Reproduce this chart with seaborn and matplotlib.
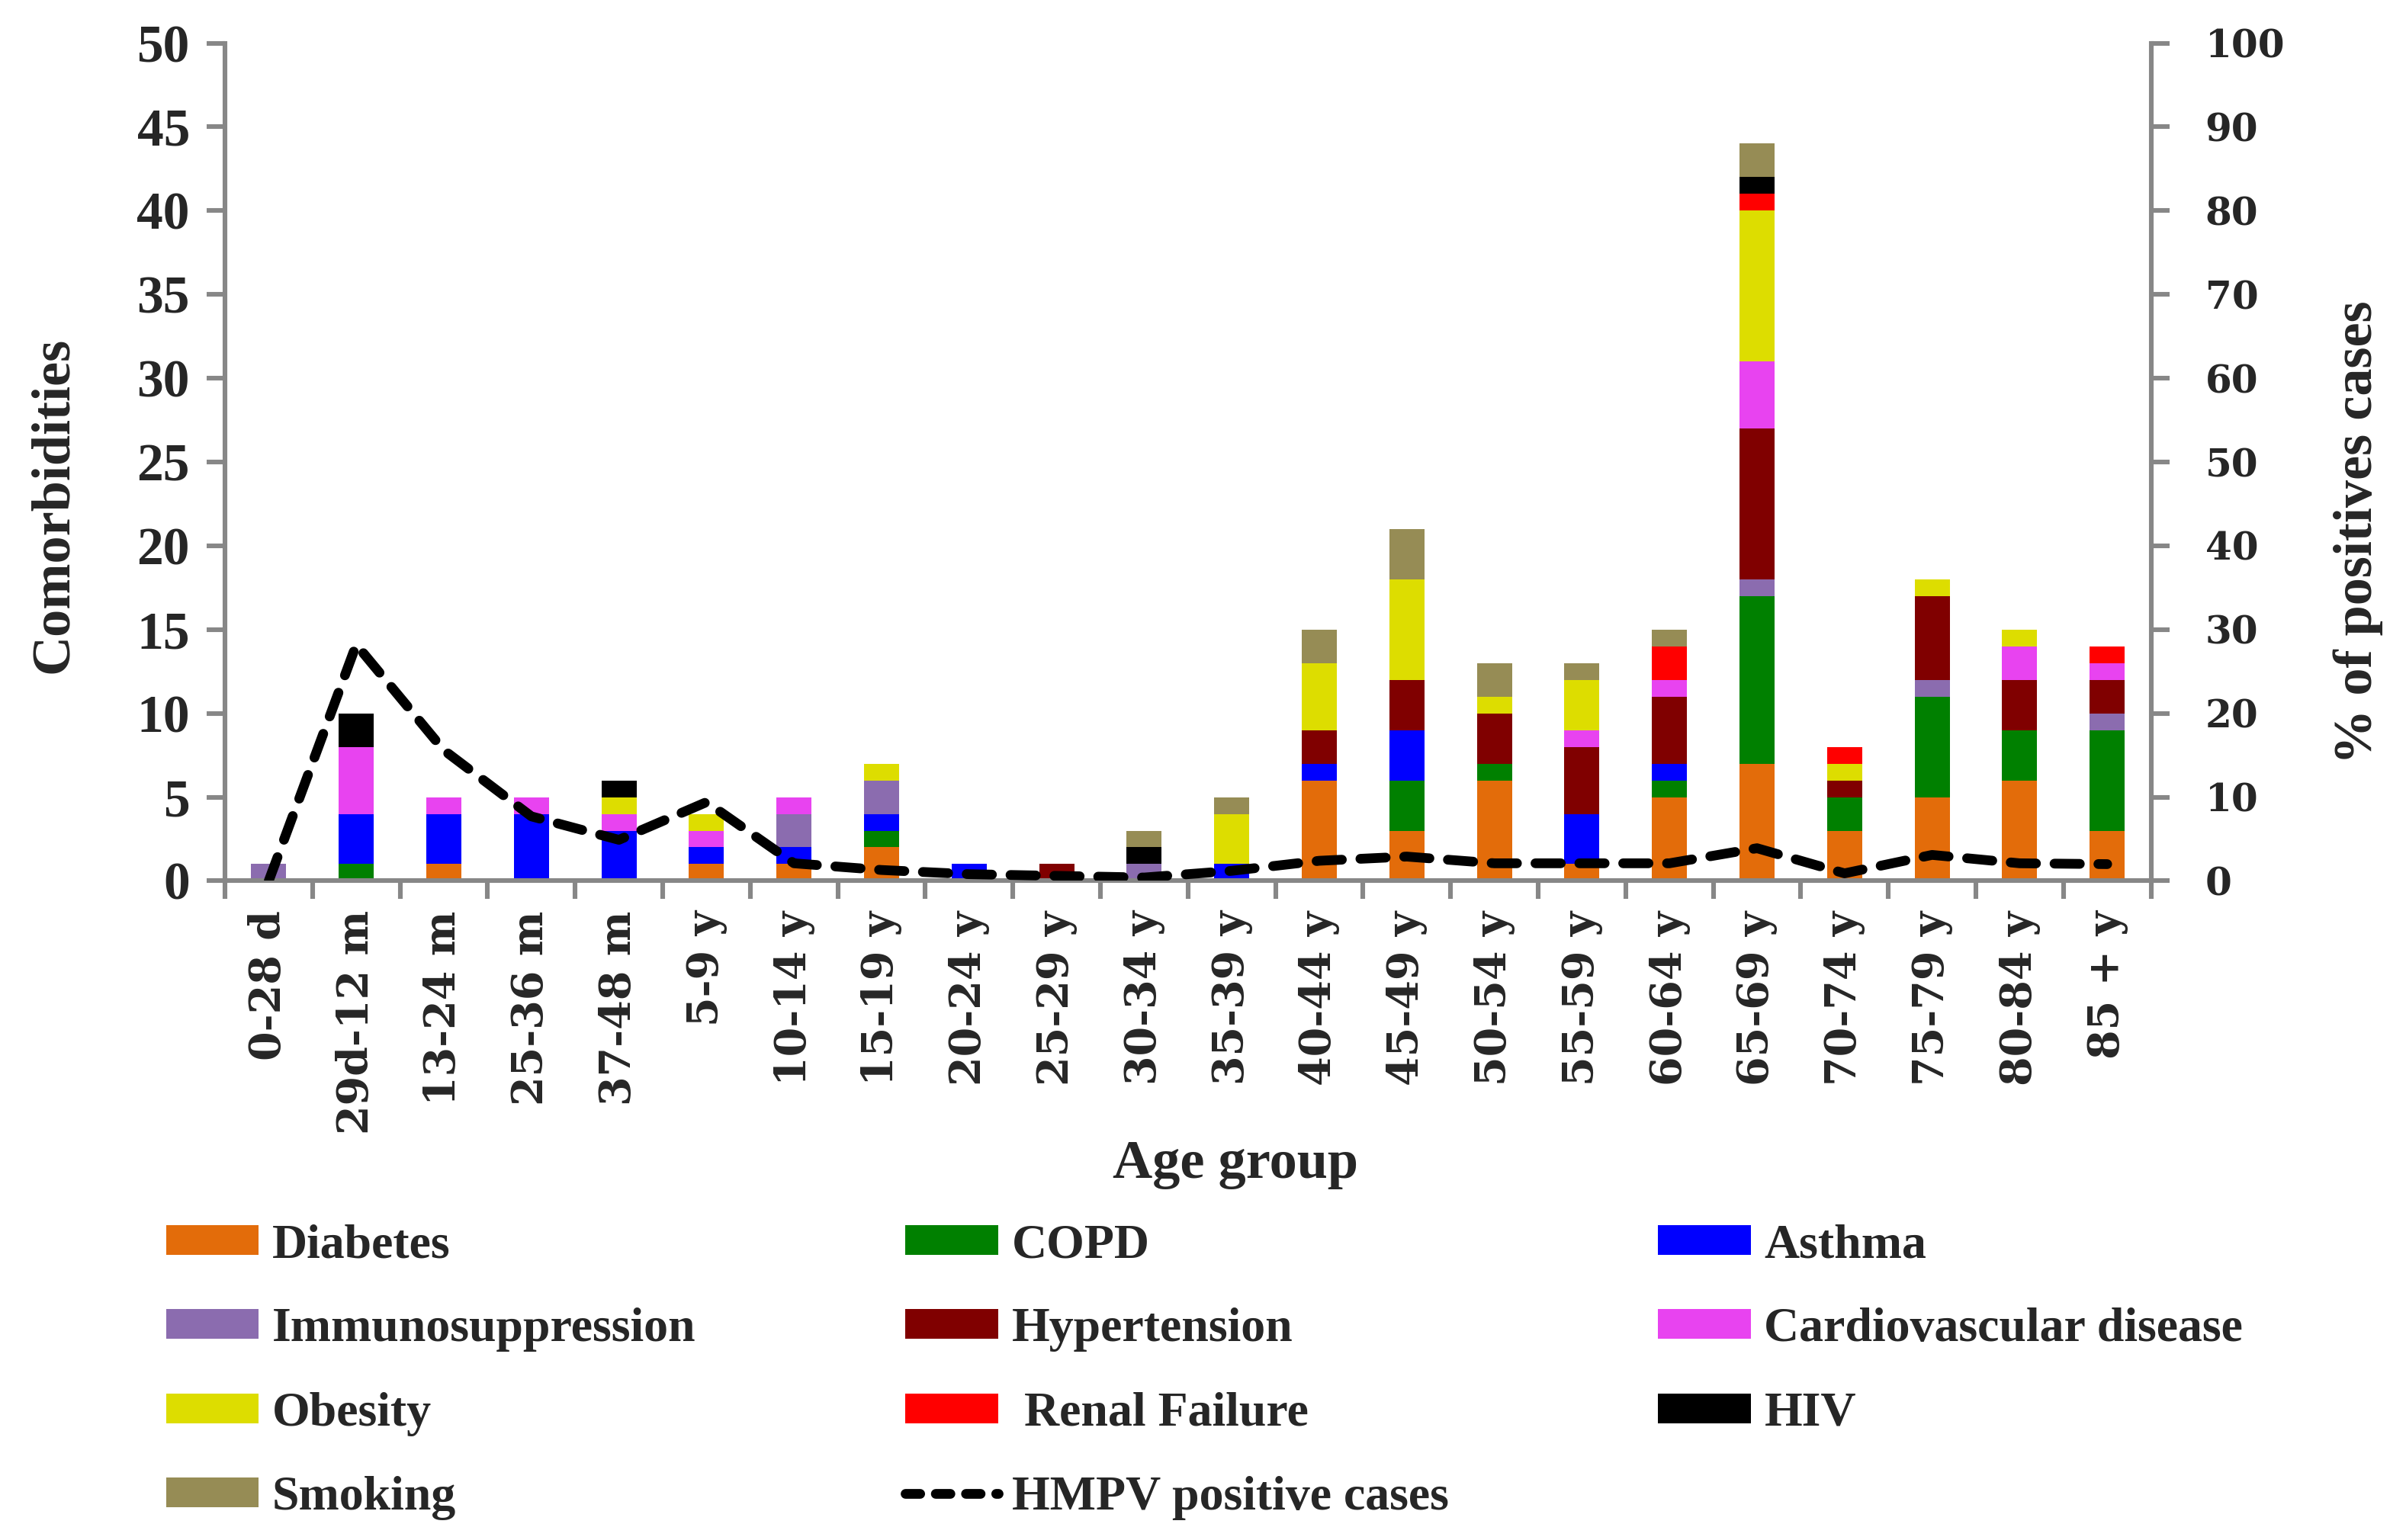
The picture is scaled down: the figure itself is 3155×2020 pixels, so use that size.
import numpy as np
import pandas as pd
import matplotlib
matplotlib.use("Agg")
import matplotlib.pyplot as plt
from matplotlib.patches import Patch
from matplotlib.lines import Line2D
import seaborn as sns

# age groups on the x axis
age_groups = ["0-28 d", "29d-12 m", "13-24 m", "25-36 m", "37-48 m", "5-9 y",
              "10-14 y", "15-19 y", "20-24 y", "25-29 y", "30-34 y", "35-39 y",
              "40-44 y", "45-49 y", "50-54 y", "55-59 y", "60-64 y", "65-69 y",
              "70-74 y", "75-79 y", "80-84 y", "85 + y"]

# comorbidity counts per age group
diabetes = [0, 0, 1, 0, 0, 1, 1, 2, 0, 0, 0, 0, 6, 3, 6, 1, 5, 7, 3, 5, 6, 3]
copd = [0, 1, 0, 0, 0, 0, 0, 1, 0, 0, 0, 0, 0, 3, 1, 0, 1, 10, 2, 6, 3, 6]
asthma = [0, 3, 3, 4, 3, 1, 1, 1, 1, 0, 0, 1, 1, 3, 0, 3, 1, 0, 0, 0, 0, 0]
immuno = [1, 0, 0, 0, 0, 0, 2, 2, 0, 0, 1, 0, 0, 0, 0, 0, 0, 1, 0, 1, 0, 1]
hypertension = [0, 0, 0, 0, 0, 0, 0, 0, 0, 1, 0, 0, 2, 3, 3, 4, 4, 9, 1, 5, 3, 2]
cardio = [0, 4, 1, 1, 1, 1, 1, 0, 0, 0, 0, 0, 0, 0, 0, 1, 1, 4, 0, 0, 2, 1]
obesity = [0, 0, 0, 0, 1, 1, 0, 1, 0, 0, 0, 3, 4, 6, 1, 3, 0, 9, 1, 1, 1, 0]
renal = [0, 0, 0, 0, 0, 0, 0, 0, 0, 0, 0, 0, 0, 0, 0, 0, 2, 1, 1, 0, 0, 1]
hiv = [0, 2, 0, 0, 1, 0, 0, 0, 0, 0, 1, 0, 0, 0, 0, 0, 0, 1, 0, 0, 0, 0]
smoking = [0, 0, 0, 0, 0, 0, 0, 0, 0, 0, 1, 1, 2, 3, 2, 1, 1, 2, 0, 0, 0, 0]

# % of HMPV positive cases per age group (right axis)
hmpv_pct = [0, 28.2, 15.6, 7.7, 4.9, 9.4, 2.1, 1.3, 0.8, 0.6, 0.4, 1.2,
            2.4, 2.9, 2.1, 2.1, 2.1, 3.9, 0.9, 3.1, 2.1, 2.0]

names = ["Diabetes", "COPD", "Asthma", "Immunosuppression", "Hypertension",
         "Cardiovascular disease", "Obesity", "Renal Failure", "HIV", "Smoking"]
legend_labels = ["Diabetes", "COPD", "Asthma", "Immunosuppression", "Hypertension",
                 "Cardiovascular disease", "Obesity", " Renal Failure", "HIV", "Smoking"]
colors = ["#E36C0A", "#008000", "#0000FF", "#8B6CAF", "#800000",
          "#E843F0", "#DDDD00", "#FF0000", "#000000", "#968C55"]
series = [diabetes, copd, asthma, immuno, hypertension, cardio, obesity, renal, hiv, smoking]

rows = []
for name, vals in zip(names, series):
    for i, v in enumerate(vals):
        rows.append((i, name, v))
df = pd.DataFrame(rows, columns=["pos", "comorbidity", "count"])

sns.set_style("white")
plt.rcParams["font.family"] = ["Liberation Serif", "DejaVu Serif"]
plt.rcParams["font.weight"] = "bold"

gray = "#878787"

fig = plt.figure(figsize=(15.775, 10.1), dpi=200)
ax = fig.add_axes([0.0935, 0.428, 0.8005, 0.544])

# seaborn stacks the last hue level at the bottom
sns.histplot(data=df, x="pos", hue="comorbidity", weights="count",
             multiple="stack", discrete=True, shrink=0.4,
             hue_order=names[::-1], palette=dict(zip(names, colors)),
             alpha=1, linewidth=0, legend=False, ax=ax)

ax2 = ax.twinx()
sns.lineplot(x=list(range(len(age_groups))), y=hmpv_pct, ax=ax2,
             color="black", linewidth=4.6)
line = ax2.lines[0]
line.set_dashes([2.6, 1.9])
line.set_dash_capstyle("round")
line.set_solid_joinstyle("round")

ax.set_xlim(-0.5, len(age_groups) - 0.5)
ax.set_ylim(0, 50)
ax2.set_ylim(0, 100)
ax.set_xlabel("")
ax.set_ylabel("")
ax2.set_ylabel("")

ax.set_yticks(range(0, 51, 5))
ax2.set_yticks(range(0, 101, 10))
ax.set_xticks(range(len(age_groups)))
ax.set_xticklabels(age_groups, rotation=90, fontfamily="DejaVu Serif",
                   fontweight="bold", fontsize=20)
ax.set_xticks(np.arange(-0.5, len(age_groups)), minor=True)

for a in (ax, ax2):
    a.spines["top"].set_visible(False)
    for s in a.spines.values():
        s.set_color(gray)
        s.set_linewidth(2.2)
ax2.spines["left"].set_visible(False)
ax2.spines["bottom"].set_visible(False)
ax.spines["right"].set_visible(False)

ax.tick_params(axis="x", which="major", length=0, pad=14)
ax.tick_params(axis="x", which="minor", bottom=True, direction="out",
               length=8.6, width=2.2, color=gray)
ax.tick_params(axis="y", left=True, direction="out", length=8.6, width=2.2,
               color=gray, labelsize=25, pad=8)
ax2.tick_params(axis="y", right=True, direction="out", length=8.6, width=2.2,
                color=gray, pad=17)
for lbl in ax2.get_yticklabels():
    lbl.set_fontfamily("DejaVu Serif")
    lbl.set_fontweight("bold")
    lbl.set_fontsize(18)

fig.text(0.0225, 0.672, "Comorbidities", rotation=90, ha="center", va="center",
         fontsize=26, fontweight="bold")
fig.text(0.98, 0.6545, "% of positives cases", rotation=90, ha="center",
         va="center", fontsize=26, fontweight="bold")
fig.text(0.5135, 0.244, "Age group", ha="center", va="center",
         fontsize=26, fontweight="bold")

# legend, filled column by column to get the row order of the original
patches = [Patch(facecolor=c, edgecolor="none", label=l)
           for c, l in zip(colors, legend_labels)]
hmpv_handle = Line2D([], [], color="black", linewidth=4.6,
                     dashes=[1.5, 1.6], dash_capstyle="round",
                     label="HMPV positive cases")
order = [patches[0], patches[3], patches[6], patches[9],
         patches[1], patches[4], patches[7], hmpv_handle,
         patches[2], patches[5], patches[8]]
fig.legend(handles=order, loc="upper left", bbox_to_anchor=(0.069, 0.2054),
           ncol=3, frameon=False, fontsize=23, handlelength=1.9,
           handleheight=0.56, handletextpad=0.28, columnspacing=4.3,
           labelspacing=0.82, borderpad=0, borderaxespad=0)

fig.savefig("out.png", dpi=200)
